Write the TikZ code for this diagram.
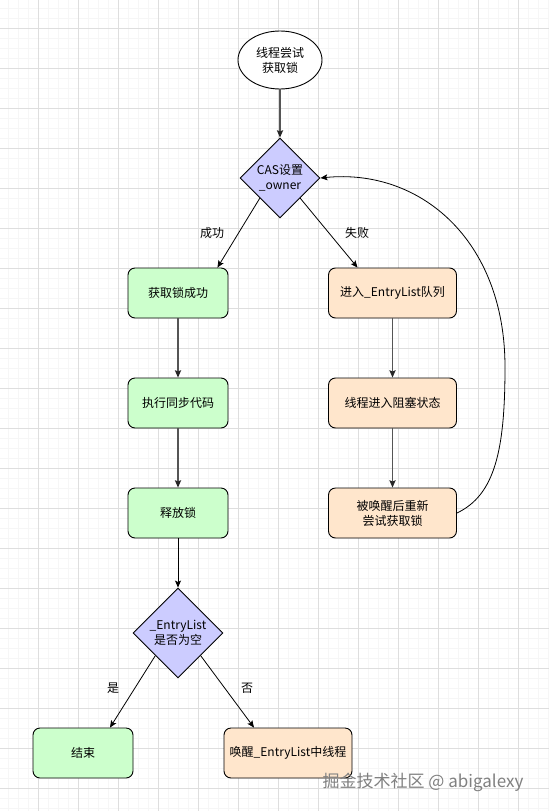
\documentclass[tikz,border=0pt]{standalone}
\usepackage{fontspec}
\setmainfont{Noto Sans CJK SC}
\usetikzlibrary{shapes.geometric,arrows.meta,calc}
\definecolor{gfill}{HTML}{CCFFCC}
\definecolor{ofill}{HTML}{FFE6CC}
\definecolor{dfill}{HTML}{CCCCFF}
\definecolor{gridmaj}{HTML}{DEDEDE}
\definecolor{gridmin}{HTML}{F6F6F6}
\definecolor{edgegray}{HTML}{555555}
\begin{document}
\begin{tikzpicture}[x=1pt,y=-1pt,
  font=\fontsize{12}{15}\selectfont,
  box/.style={draw=black,line width=0.9pt,rounded corners=7pt,minimum height=50pt,inner sep=0pt,align=center},
  gbox/.style={box,fill=gfill,minimum width=100pt},
  obox/.style={box,fill=ofill,minimum width=128pt},
  dia/.style={diamond,draw=black,line width=0.9pt,fill=dfill,inner sep=0pt,aspect=1},
  txt/.style={inner sep=0pt,align=center},
  lbl/.style={inner sep=1pt},
  thin/.style={-{Stealth[length=7pt,width=6pt,inset=1.5pt]},draw=black,line width=0.8pt},
  thick/.style={-{Stealth[length=7.5pt,width=6.5pt,inset=1.5pt,color=black!85,line width=0pt]},draw=edgegray,line width=1.4pt},
]
\useasboundingbox (0,0) rectangle (549,811);
\fill[white] (0,0) rectangle (549,811);
% grid
\foreach \x in {8,18,...,548} \draw[gridmin,line width=0.6pt] (\x,0) -- (\x,811);
\foreach \y in {8,18,...,808} \draw[gridmin,line width=0.6pt] (0,\y) -- (549,\y);
\foreach \x in {38,78,...,518} \draw[gridmaj,line width=0.8pt] (\x,0) -- (\x,811);
\foreach \y in {28,68,...,788} \draw[gridmaj,line width=0.8pt] (0,\y) -- (549,\y);

% nodes
\node[ellipse,draw=black,line width=0.9pt,fill=white,minimum width=84pt,minimum height=58pt,inner sep=0pt,align=center] (start) at (280,60) {线程尝试\\获取锁};
\node[dia,minimum width=80pt,minimum height=80pt] (d1) at (280,178) {};
\node[txt] (d1t) at (280,178) {CAS设置\\\_owner};

\node[gbox] (g1) at (178,293) {获取锁成功};
\node[gbox] (g2) at (178,403) {执行同步代码};
\node[gbox] (g3) at (178,513) {释放锁};

\node[obox] (o1) at (392.5,293) {进入\_EntryList队列};
\node[obox] (o2) at (392.5,403) {线程进入阻塞状态};
\node[obox] (o3) at (392.5,513) {被唤醒后重新\\尝试获取锁};

\node[dia,minimum width=90pt,minimum height=90pt] (d2) at (178,633) {};
\node[txt] (d2t) at (178,633) {\_EntryList\\是否为空};

\node[gbox] (e) at (83,753) {结束};
\node[obox] (w) at (288,753) {唤醒\_EntryList中线程};

% labels
\node[lbl] (l1) at (212,233) {成功};
\node[lbl] (l2) at (357,233) {失败};
\node[lbl] (l3) at (113,688) {是};
\node[lbl] (l4) at (247,688) {否};

% edges
\draw[thick] (start) -- (d1);
\draw[thin] (d1.south west) -- ([xshift=-11pt]g1.north east);
\draw[thin] (d1.south east) -- ([xshift=-35pt]o1.north);
\draw[thick] (g1) -- (g2);
\draw[thick] (g2) -- (g3);
\draw[thin] (g3) -- (d2);
\draw[thick] (o1) -- (o2);
\draw[thick] (o2) -- (o3);
\draw[thin] (d2.south west) -- ([xshift=27pt]e.north);
\draw[thin] (d2.south east) -- ([xshift=-34pt]w.north);
\coordinate (bend) at (505,367);
\draw[thin] (o3.east) .. controls (495,495) and (505,450) .. (bend)
  .. controls (505,240) and (420,168) .. (d1.east);

% watermark
\node[inner sep=0pt,text=black!50,font=\fontsize{17}{18}\selectfont] (wm) at (423,782) {掘金技术社区 @ abigalexy};
\end{tikzpicture}
\end{document}
